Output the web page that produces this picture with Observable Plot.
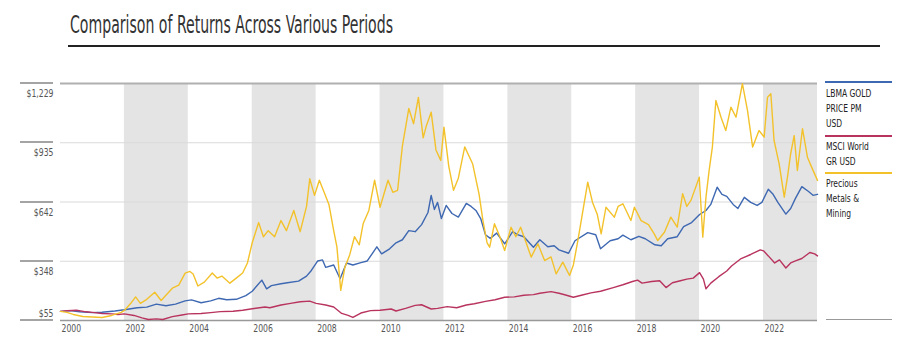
<!DOCTYPE html>
<html><head><meta charset="utf-8">
<script src="https://cdn.jsdelivr.net/npm/d3@7"></script>
<script src="https://cdn.jsdelivr.net/npm/@observablehq/plot@0.6"></script>
<style>
body{margin:0;background:#fff;width:897px;height:360px;overflow:hidden;position:relative;font-family:"Liberation Sans Narrow","DejaVu Sans Condensed","Roboto",sans-serif;}
#title{position:absolute;left:70px;top:12px;font-size:25px;line-height:25px;color:#333;white-space:nowrap;transform-origin:0 0;}
#trule{position:absolute;left:68px;top:45px;width:812px;height:2px;background:#222;}
#chart{position:absolute;left:0;top:55px;}
.lg{position:absolute;left:825px;width:67px;height:2px;}
.lt{position:absolute;left:826px;font-size:10.5px;line-height:15px;color:#222;white-space:nowrap;transform-origin:0 0;transform:scaleX(0.8);font-weight:500;}
#lbase{position:absolute;left:826px;top:319px;width:66px;height:1px;background:#999;}
.stub{position:absolute;left:20px;width:33px;height:2px;background:#a4a4a4;}
</style></head><body>
<div id="title">Comparison of Returns Across Various Periods</div>
<div id="trule"></div>
<div id="chart"></div>
<div id="stubs"></div>
<div id="legend"></div>
<div id="lbase"></div>
<script>
// ---- data ----
const xTicks = [2000, 2002, 2004, 2006, 2008, 2010, 2012, 2014, 2016, 2018, 2020, 2022];
const yTicks = [55, 348.5, 642, 935.5, 1229];
const yLabels = ["$55", "$348", "$642", "$935", "$1,229"];
const bandStarts = [2002, 2006, 2010, 2014, 2018, 2022];
const bandEnds = [2004, 2008, 2012, 2016, 2020, 2023.69];
const seriesNames = ["LBMA GOLD PRICE PM USD", "MSCI World GR USD", "Precious Metals & Mining"];
const legendLines = [["LBMA GOLD", "PRICE PM", "USD"], ["MSCI World", "GR USD"], ["Precious", "Metals &", "Mining"]];

const goldYears = [2000.0,2000.3,2000.6,2001.0,2001.3,2001.7,2002.0,2002.4,2002.7,2003.0,2003.3,2003.6,2003.9,2004.1,2004.4,2004.7,2004.95,2005.2,2005.5,2005.8,2006.0,2006.3,2006.45,2006.6,2006.9,2007.1,2007.45,2007.7,2007.85,2008.05,2008.2,2008.3,2008.55,2008.75,2008.95,2009.15,2009.4,2009.6,2009.9,2010.05,2010.3,2010.5,2010.7,2010.9,2011.1,2011.3,2011.5,2011.6,2011.7,2011.8,2011.92,2012.07,2012.25,2012.45,2012.7,2012.85,2013.0,2013.15,2013.3,2013.45,2013.65,2013.9,2014.15,2014.3,2014.5,2014.8,2015.0,2015.25,2015.45,2015.6,2015.9,2016.1,2016.5,2016.75,2016.9,2017.2,2017.45,2017.6,2017.85,2018.1,2018.3,2018.6,2018.8,2019.0,2019.3,2019.5,2019.75,2020.0,2020.2,2020.35,2020.55,2020.7,2020.85,2021.05,2021.2,2021.4,2021.6,2021.8,2021.95,2022.15,2022.3,2022.45,2022.7,2022.85,2023.0,2023.2,2023.4,2023.55,2023.69];
const goldValues = [100,104,98,94,96,102,108,118,121,136,128,136,152,157,143,152,165,158,160,178,200,255,212,228,237,242,250,275,303,350,355,318,330,262,340,330,342,350,420,385,410,440,455,500,495,530,590,675,605,640,560,625,585,567,635,620,600,560,480,462,488,435,495,480,470,418,455,420,425,405,388,450,490,480,410,450,460,478,455,472,460,430,425,460,470,520,540,580,600,630,715,680,670,630,610,665,640,625,640,705,680,640,582,610,660,718,695,675,680];

const msciYears = [2000.0,2000.2,2000.5,2000.8,2001.0,2001.3,2001.6,2001.8,2002.0,2002.3,2002.55,2002.75,2003.0,2003.2,2003.5,2003.8,2004.0,2004.4,2004.7,2005.0,2005.4,2005.7,2006.0,2006.4,2006.55,2006.9,2007.2,2007.5,2007.8,2008.0,2008.3,2008.55,2008.8,2009.0,2009.15,2009.4,2009.7,2010.0,2010.35,2010.5,2010.8,2011.1,2011.3,2011.6,2011.8,2012.1,2012.4,2012.7,2012.95,2013.3,2013.6,2013.9,2014.2,2014.5,2014.8,2015.0,2015.35,2015.6,2015.75,2016.05,2016.3,2016.6,2016.9,2017.3,2017.6,2017.9,2018.06,2018.2,2018.5,2018.75,2018.95,2019.15,2019.4,2019.6,2019.8,2020.0,2020.12,2020.2,2020.35,2020.6,2020.85,2021.0,2021.3,2021.6,2021.9,2022.0,2022.15,2022.35,2022.5,2022.7,2022.85,2023.0,2023.2,2023.45,2023.6,2023.69];
const msciValues = [100,103,106,98,95,90,88,85,88,80,68,60,63,60,74,82,88,90,94,99,101,106,113,122,118,132,140,148,151,140,132,122,90,80,70,92,104,106,112,102,115,130,133,112,115,124,118,132,138,150,158,170,172,180,183,190,198,190,184,170,180,192,200,218,232,248,255,240,248,252,218,242,252,260,265,292,260,212,240,272,300,325,362,382,405,400,375,340,355,315,340,350,362,392,385,375];

const pmmYears = [2000.0,2000.2,2000.4,2000.7,2001.0,2001.3,2001.6,2001.9,2002.0,2002.2,2002.35,2002.5,2002.7,2002.95,2003.15,2003.3,2003.5,2003.7,2003.9,2004.05,2004.15,2004.3,2004.5,2004.75,2004.9,2005.05,2005.3,2005.5,2005.7,2005.85,2006.0,2006.2,2006.35,2006.5,2006.7,2006.9,2007.07,2007.3,2007.5,2007.7,2007.8,2007.95,2008.1,2008.25,2008.4,2008.55,2008.65,2008.77,2008.9,2009.05,2009.2,2009.35,2009.47,2009.65,2009.83,2010.0,2010.25,2010.4,2010.55,2010.7,2010.9,2011.05,2011.2,2011.35,2011.45,2011.6,2011.75,2011.9,2012.0,2012.15,2012.3,2012.45,2012.65,2012.9,2013.1,2013.22,2013.35,2013.43,2013.58,2013.75,2013.9,2014.1,2014.25,2014.4,2014.55,2014.73,2014.94,2015.15,2015.35,2015.51,2015.72,2015.93,2016.05,2016.19,2016.35,2016.5,2016.65,2016.8,2016.92,2017.07,2017.33,2017.45,2017.6,2017.85,2017.96,2018.17,2018.4,2018.58,2018.69,2018.9,2019.1,2019.3,2019.47,2019.6,2019.73,2019.99,2020.1,2020.2,2020.3,2020.4,2020.51,2020.67,2020.82,2020.98,2021.14,2021.34,2021.5,2021.66,2021.86,2022.02,2022.125,2022.23,2022.33,2022.49,2022.65,2022.75,2022.85,2022.96,2023.06,2023.22,2023.375,2023.53,2023.69];
const pmmValues = [100,95,85,75,72,70,80,95,105,140,172,140,160,195,154,180,215,230,290,298,285,226,245,290,265,275,240,265,290,340,440,540,470,500,470,550,500,600,495,620,757,675,750,690,630,500,420,204,319,380,470,430,534,600,750,616,750,690,700,920,1105,1030,1160,960,1020,1087,900,848,1013,820,700,760,915,830,680,550,440,418,534,470,402,517,470,517,450,369,435,352,370,286,344,278,330,451,600,740,640,580,484,616,567,620,633,550,616,550,530,484,451,492,567,517,683,620,650,765,468,666,800,914,1145,1062,996,1112,1062,1228,1095,914,996,963,1161,1178,947,831,666,765,881,971,798,1005,864,806,749];

const colors = ["#3e68b2", "#b8345e", "#f3c22b"];

// ---- build ----
const bands = bandStarts.map((s, i) => ({start: s, end: bandEnds[i]}));
const toRows = (ys, vs, name) => ys.map((y, i) => ({year: y, value: vs[i], series: name}));
const gold = toRows(goldYears, goldValues, seriesNames[0]);
const msci = toRows(msciYears, msciValues, seriesNames[1]);
const pmm = toRows(pmmYears, pmmValues, seriesNames[2]);
const fmtY = d => yLabels[yTicks.indexOf(d)];

const chart = Plot.plot({
  width: 897, height: 305,
  marginTop: 28, marginBottom: 40, marginLeft: 60, marginRight: 80,
  style: {fontFamily: '"Liberation Sans Narrow", "DejaVu Sans Condensed", "Roboto", sans-serif', fontSize: "11px", color: "#555", background: "#fff"},
  x: {domain: [2000, bandEnds[bandEnds.length - 1]]},
  y: {domain: [yTicks[0], yTicks[yTicks.length - 1]]},
  marks: [
    Plot.rect(bands, {x1: "start", x2: "end", fill: "#e4e4e4"}),
    Plot.ruleY(yTicks.slice(1, -1), {stroke: "#dadada", strokeWidth: 1.2}),
    Plot.ruleY(yTicks.slice(-1), {stroke: "#b0b0b0", strokeWidth: 2}),
    Plot.ruleY(yTicks.slice(0, 1), {stroke: "#999", strokeWidth: 1.5}),
    Plot.axisY(yTicks.slice(1), {tickSize: 0, tickPadding: 7, dy: 10, tickFormat: fmtY, label: null, fill: "#555"}),
    Plot.axisY(yTicks.slice(0, 1), {tickSize: 0, tickPadding: 7, dy: -7, tickFormat: fmtY, label: null, fill: "#555"}),
    Plot.axisX(xTicks, {tickSize: 0, tickPadding: 4, textAnchor: "start", dx: 1, tickFormat: d => String(d), label: null, fill: "#555"}),
    Plot.line(gold, {x: "year", y: "value", stroke: colors[0], strokeWidth: 1.4}),
    Plot.line(msci, {x: "year", y: "value", stroke: colors[1], strokeWidth: 1.4}),
    Plot.line(pmm, {x: "year", y: "value", stroke: colors[2], strokeWidth: 1.4})
  ]
});
document.getElementById("chart").appendChild(chart);

// condense axis tick labels horizontally (no narrow font installed)
const squeeze = 0.78;
chart.querySelectorAll("text").forEach(el => {
  const x = el.getAttribute("x");
  if (x !== null) el.setAttribute("x", +x / squeeze);
  const tr = el.getAttribute("transform") || "";
  el.setAttribute("transform", (tr + ` scale(${squeeze},1)`).trim());
});

// short stubs left of the y labels, positioned through the chart's own y scale
const yScale = chart.scale("y");
const stubs = document.getElementById("stubs");
yTicks.forEach(v => {
  const s = document.createElement("div");
  s.className = "stub";
  s.style.top = (55 + yScale.apply(v) - 1) + "px";
  stubs.appendChild(s);
});

// legend
const legend = document.getElementById("legend");
const ruleTops = [81, 135, 172];
const textTops = [86, 139, 176];
legendLines.forEach((lines, i) => {
  const r = document.createElement("div");
  r.className = "lg"; r.style.top = ruleTops[i] + "px"; r.style.background = colors[i];
  legend.appendChild(r);
  const t = document.createElement("div");
  t.className = "lt"; t.style.top = textTops[i] + "px";
  t.innerHTML = lines.join("<br>");
  legend.appendChild(t);
});

// condense title to reference width
const title = document.getElementById("title");
const w = title.getBoundingClientRect().width;
title.style.transform = `scaleX(${323 / w})`;
</script>
</body></html>
